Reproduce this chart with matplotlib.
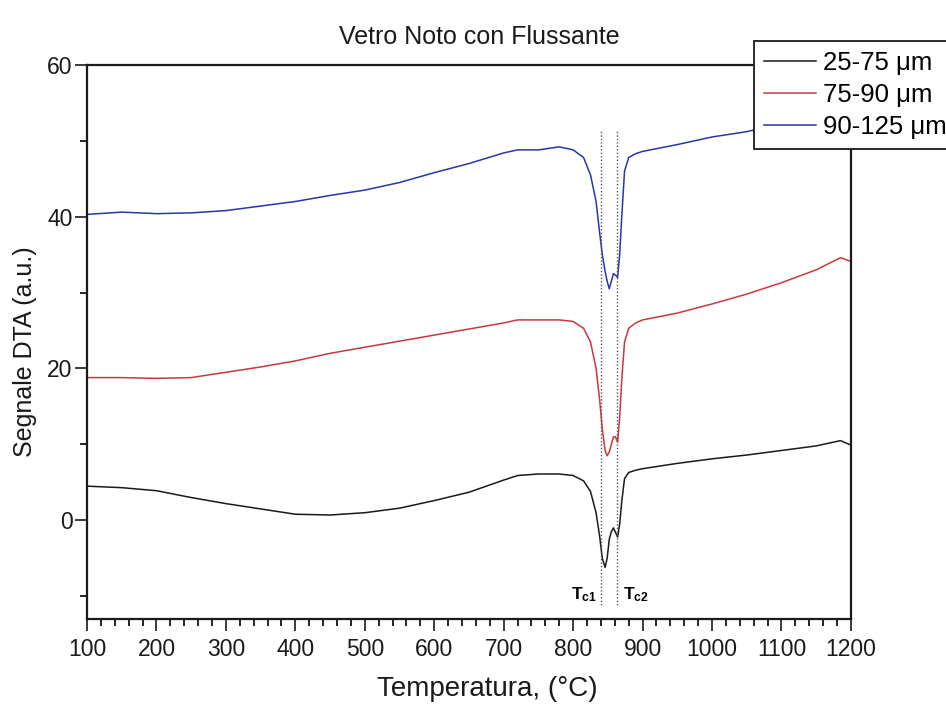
import matplotlib
matplotlib.use("Agg")
import matplotlib.pyplot as plt
from matplotlib.ticker import MultipleLocator

plt.rcParams['font.family'] = ['Liberation Sans', 'DejaVu Sans']
plt.rcParams['mathtext.fontset'] = 'custom'
plt.rcParams['mathtext.rm'] = 'Liberation Sans'
plt.rcParams['mathtext.bf'] = 'Liberation Sans:bold'

title = "Vetro Noto con Flussante"
xlabel = "Temperatura, (°C)"
ylabel = "Segnale DTA (a.u.)"
labels = ["25-75 μm", "75-90 μm", "90-125 μm"]
colors = ["#1a1a1a", "#c8393c", "#2a35a8"]

temps = [100, 150, 200, 250, 300, 350, 400, 450, 500, 550, 600, 650, 700, 720,
         750, 780, 800, 815, 825, 833, 838, 842, 846, 849, 852, 855, 858, 861,
         864, 867, 870, 874, 880, 890, 900, 950, 1000, 1050, 1100, 1150, 1185, 1200]

dta_25_75 = [4.5, 4.3, 3.9, 3.0, 2.2, 1.5, 0.8, 0.7, 1.0, 1.6, 2.6, 3.7, 5.3, 5.9,
             6.1, 6.1, 5.9, 5.2, 3.8, 1.0, -2.0, -5.0, -6.2, -5.0, -2.5, -1.5, -1.0, -1.6,
             -2.2, -0.5, 2.5, 5.5, 6.3, 6.6, 6.8, 7.5, 8.1, 8.6, 9.2, 9.8, 10.5, 9.9]

dta_75_90 = [18.8, 18.8, 18.7, 18.8, 19.5, 20.2, 21.0, 22.0, 22.8, 23.6, 24.4, 25.2, 26.0, 26.4,
             26.4, 26.4, 26.2, 25.3, 23.5, 20.0, 16.0, 12.0, 9.2, 8.5, 9.0, 10.0, 11.0, 11.0,
             10.3, 13.5, 18.5, 23.5, 25.3, 26.0, 26.4, 27.3, 28.5, 29.8, 31.3, 33.0, 34.6, 34.1]

dta_90_125 = [40.3, 40.6, 40.4, 40.5, 40.8, 41.4, 42.0, 42.8, 43.5, 44.5, 45.8, 47.0, 48.4, 48.8,
              48.8, 49.2, 48.8, 47.8, 45.5, 42.0, 38.0, 35.0, 32.8, 31.5, 30.5, 31.5, 32.5, 32.3,
              32.0, 35.0, 40.0, 46.0, 47.8, 48.3, 48.6, 49.5, 50.5, 51.2, 52.3, 53.3, 54.0, 53.8]

tc_positions = [840, 863]
tc_labels = [r"$\mathbf{T_{c1}}$", r"$\mathbf{T_{c2}}$"]

fig = plt.figure(figsize=(9.46, 7.05), dpi=100)
ax = fig.add_axes([0.092, 0.122, 0.8075, 0.786])

series = [dta_25_75, dta_75_90, dta_90_125]
for ys, lab, c in zip(series, labels, colors):
    ax.plot(temps, ys, color=c, lw=1.1, label=lab)

for t in tc_positions:
    ax.plot([t, t], [-11.2, 51.3], color="#555555", lw=1.0, ls=(0, (1, 1.5)))

ax.text(816, -9.8, tc_labels[0], ha="center", va="center", fontsize=12.5)
ax.text(890, -9.8, tc_labels[1], ha="center", va="center", fontsize=12.5)

ax.set_xlim(100, 1200)
ax.set_ylim(-13, 60)
ax.xaxis.set_major_locator(MultipleLocator(100))
ax.xaxis.set_minor_locator(MultipleLocator(20))
ax.yaxis.set_major_locator(MultipleLocator(20))
ax.yaxis.set_minor_locator(MultipleLocator(10))
ax.tick_params(which="major", direction="out", length=8.5, width=1.2, labelsize=16.5,
               top=False, right=False, colors="#1a1a1a", pad=5)
ax.tick_params(axis="y", which="major", pad=2)
ax.tick_params(which="minor", direction="out", length=5, width=1.2, top=False, right=False)
for s in ax.spines.values():
    s.set_linewidth(1.6)
    s.set_color("#1a1a1a")

ax.set_xlabel(xlabel, fontsize=20, color="#1a1a1a")
ax.xaxis.set_label_coords(0.524, -0.103)
ax.set_ylabel(ylabel, fontsize=18, color="#1a1a1a", va="center")
ax.yaxis.set_label_coords(-0.081, 0.482)
ax.set_title(title, fontsize=18, pad=15, color="#1a1a1a", x=0.514)

leg = ax.legend(loc="upper left", bbox_to_anchor=(0.797, 0.942), bbox_transform=fig.transFigure,
                fontsize=18.5, frameon=True, fancybox=False, edgecolor="#1a1a1a",
                handlelength=2.0, labelspacing=0.3, borderpad=0.4, handletextpad=0.3,
                borderaxespad=0)
leg.get_frame().set_linewidth(1.3)
leg.get_frame().set_alpha(1)

fig.savefig("out.png", dpi=100)
